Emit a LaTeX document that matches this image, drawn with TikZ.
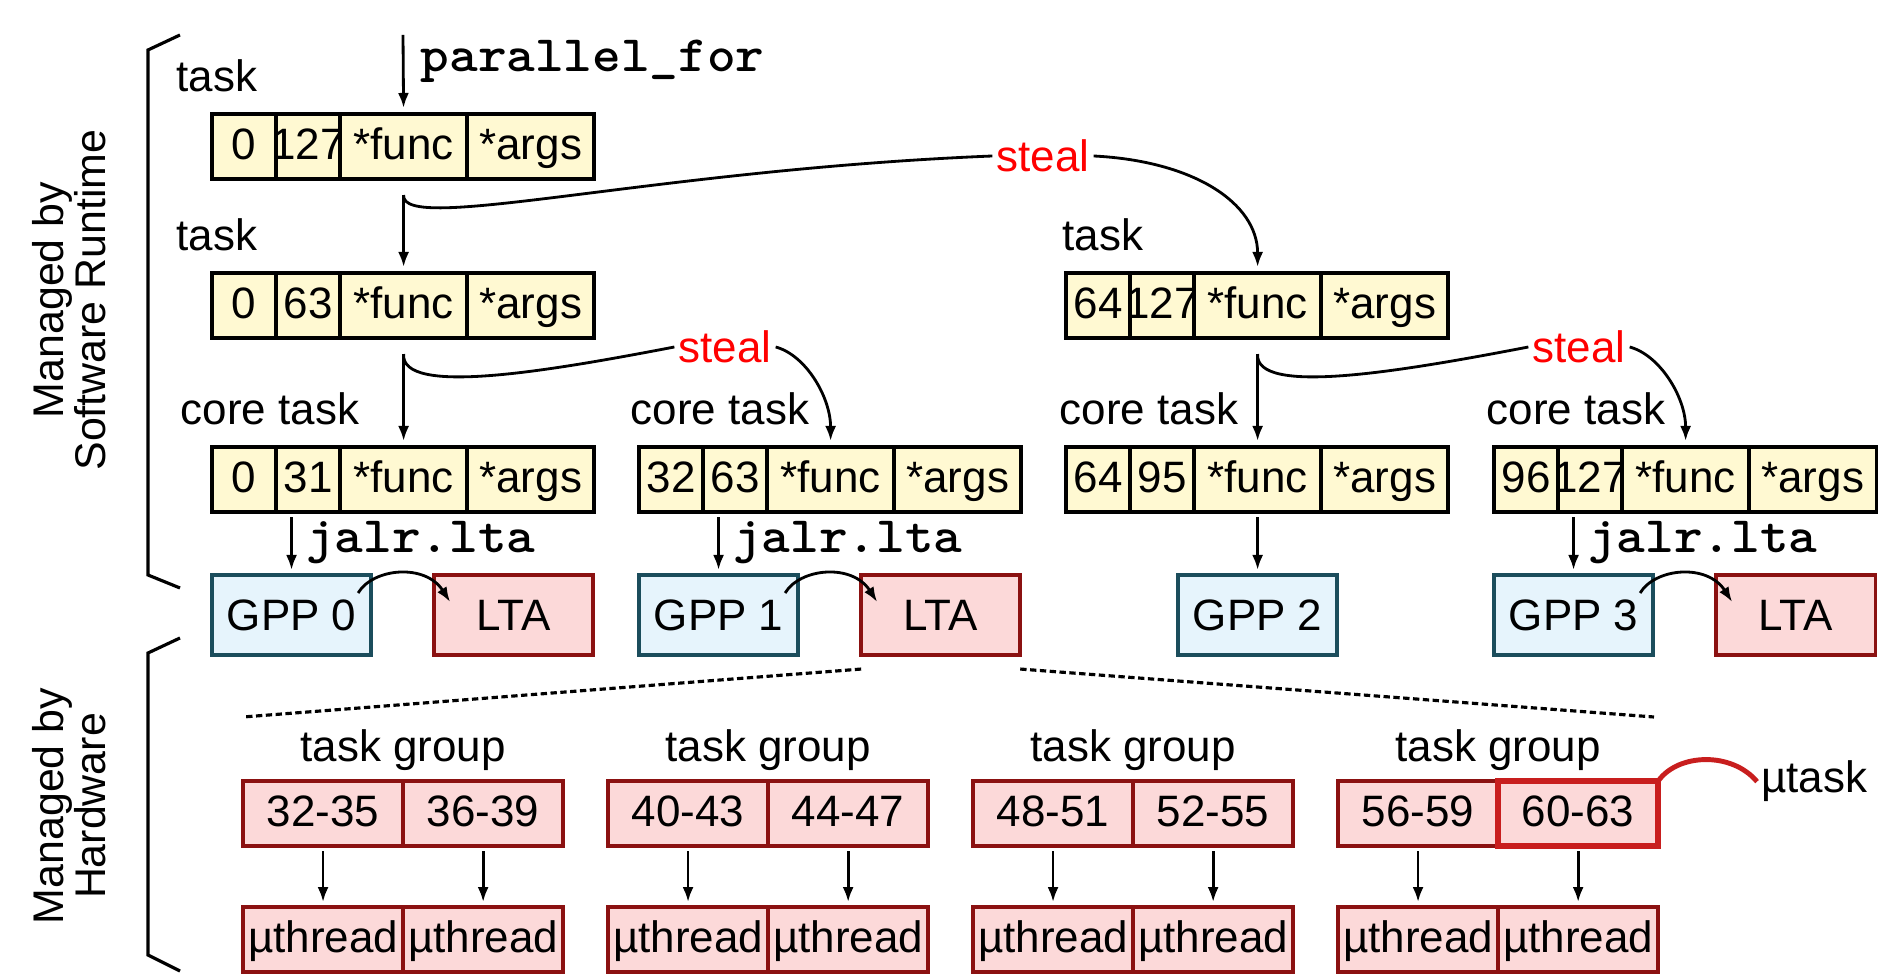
\documentclass[tikz,border=0pt]{standalone}
\usepackage{fontspec}
\setmainfont{Liberation Sans}
\usepackage{xcolor}
\usepackage{graphicx}
\usetikzlibrary{calc,positioning,arrows.meta}

\definecolor{taskfill}{HTML}{FFF9D2}
\definecolor{gppfill}{HTML}{E6F4FC}
\definecolor{gppline}{HTML}{1B4D5C}
\definecolor{ltafill}{HTML}{FCD9D9}
\definecolor{ltaline}{HTML}{8B1111}
\definecolor{hlred}{HTML}{C81E1E}
\definecolor{stealred}{HTML}{FF0000}

% task descriptor: lo | hi | *func | *args
\newcommand{\taskrow}[4]{%
  \node[tcell, minimum width=0.64cm, anchor=north west] (#1-lo) at (#2) {\makebox[0pt]{#3}};
  \node[tcell, minimum width=0.64cm, right=0pt of #1-lo] (#1-hi) {\makebox[0pt]{#4}};
  \node[tcell, minimum width=1.27cm, right=0pt of #1-hi] (#1-fn) {*func};
  \node[tcell, minimum width=1.27cm, right=0pt of #1-fn] (#1-ar) {*args};
}
% wide bold typewriter text
\newcommand{\code}[1]{\scalebox{1.07}[1]{\ttfamily\bfseries #1}}

\begin{document}
\begin{tikzpicture}[x=0.01cm, y=-0.01cm, font=\fontsize{12.5}{15}\selectfont]
\tikzstyle{tcell}=[draw, fill=taskfill, line width=1pt, outer sep=0pt, inner sep=0pt, minimum height=0.65cm, text height=0.72em, text depth=0pt]
\tikzstyle{gcell}=[tcell, draw=ltaline, fill=ltafill, minimum width=1.6cm]
\tikzstyle{gpp}=[draw=gppline, fill=gppfill, line width=1pt, outer sep=0pt, minimum width=1.59cm, minimum height=0.8cm]
\tikzstyle{lta}=[gpp, draw=ltaline, fill=ltafill]
\tikzstyle{arr}=[-{Latex[length=0.15cm, width=0.11cm]}, line width=0.8pt]
\tikzstyle{steal}=[text=stealred, inner sep=1pt]
\tikzstyle{code}=[font=\fontsize{14.5}{16}\selectfont, inner sep=0pt]
\tikzstyle{lbl}=[inner sep=0pt]
\tikzstyle{zoomline}=[line width=0.9pt, dash pattern=on 1.8pt off 1pt]
\useasboundingbox (0,0) rectangle (1886,977);

% brackets and side labels
\draw[line width=0.9pt] (180,35) -- (148,50) -- (148,575) -- (180,588);
\draw[line width=0.9pt] (180,638) -- (148,653) -- (148,955) -- (180,971);
\node[rotate=90, align=center, font=\fontsize{12.2}{12}\selectfont] (sw) at (69,300) {Managed by\\Software Runtime};
\node[rotate=90, align=center, font=\fontsize{12.2}{12}\selectfont] (hw) at (69,806) {Managed by\\Hardware};

% task descriptors
\taskrow{A}{212,114}{0}{127}
\taskrow{B}{212,273}{0}{63}
\taskrow{C}{1066,273}{64}{127}
\taskrow{D0}{212,447}{0}{31}
\taskrow{D1}{639,447}{32}{63}
\taskrow{D2}{1066,447}{64}{95}
\taskrow{D3}{1494,447}{96}{127}

\node[lbl, anchor=base west] (tA) at (176,92) {task};
\node[lbl, anchor=base west] (tB) at (176,251) {task};
\node[lbl, anchor=base west] (tC) at (1062,251) {task};
\node[lbl, anchor=base west] (cD0) at (180,425) {core task};
\node[lbl, anchor=base west] (cD1) at (630,425) {core task};
\node[lbl, anchor=base west] (cD2) at (1059,425) {core task};
\node[lbl, anchor=base west] (cD3) at (1486,425) {core task};

% spawn
\coordinate (pf) at (403,35);
\draw[arr, shorten >=0.06cm] (pf) -- (A-fn.north);
\node[code, anchor=base west] (pfor) at (420,72) {\code{parallel\_for}};

% splitting and stealing
\draw[arr, shorten <=0.16cm, shorten >=0.06cm] (A-fn.south) -- (B-fn.north);
\node[steal] (st1) at (1043,156) {steal};
\draw[line width=0.8pt] ($(A-fn.south)+(0,16)$) .. controls +(-3,40) and +(-343,14) .. (st1.west);
\draw[arr, shorten >=0.06cm] (st1.east) .. controls +(100,5) and +(0,-70) .. (C-fn.north);

\draw[arr, shorten <=0.16cm, shorten >=0.06cm] (B-fn.south) -- (D0-fn.north);
\node[steal] (st2) at (725,347) {steal};
\draw[line width=0.8pt] ($(B-fn.south)+(0,16)$) .. controls +(-3,42) and +(-130,25) .. (st2.west);
\draw[arr, shorten >=0.06cm] (st2.east) .. controls +(30,8) and +(0,-50) .. (D1-fn.north);

\draw[arr, shorten <=0.16cm, shorten >=0.06cm] (C-fn.south) -- (D2-fn.north);
\node[steal] (st3) at (1579,347) {steal};
\draw[line width=0.8pt] ($(C-fn.south)+(0,16)$) .. controls +(-3,42) and +(-130,25) .. (st3.west);
\draw[arr, shorten >=0.06cm] (st3.east) .. controls +(30,8) and +(0,-50) .. (D3-fn.north);

% cores
\node[gpp, anchor=north west] (gpp0) at (212,575) {GPP 0};
\node[lta, right=0.63cm of gpp0] (lta0) {LTA};
\node[gpp, anchor=north west] (gpp1) at (639,575) {GPP 1};
\node[lta, right=0.63cm of gpp1] (lta1) {LTA};
\node[gpp, anchor=north] (gpp2) at (D2-fn.south |- gpp0.north) {GPP 2};
\node[gpp, anchor=north west] (gpp3) at (1494,575) {GPP 3};
\node[lta, right=0.63cm of gpp3] (lta3) {LTA};

\draw[arr, shorten <=0.05cm, shorten >=0.05cm] (D2-fn.south) -- (gpp2.north);
\foreach \i in {0,1,3} {
  \draw[arr, shorten <=0.05cm, shorten >=0.05cm] (gpp\i.north |- D\i-lo.south) -- (gpp\i.north);
  \node[code, anchor=base west] (j\i) at ($(gpp\i.north)+(14,-22)$) {\code{jalr.lta}};
  \draw[arr] ($(gpp\i.north east)+(-13,18)$) .. controls +(15,-25) and +(-25,-39) .. ($(lta\i.north west)+(16,27)$);
}

% inside the LTA
\coordinate (zl) at (243,717);
\coordinate (zr) at (1654,717);
\draw[zoomline] ($(lta1.south west)+(0,14)$) -- (zl);
\draw[zoomline] ($(lta1.south east)+(0,14)$) -- (zr);

\foreach \g/\x/\a/\b in {1/243/32-35/36-39, 2/608/40-43/44-47, 3/973/48-51/52-55, 4/1338/56-59/60-63} {
  \node[gcell, anchor=north west] (g\g-a) at (\x,781) {\a};
  \node[gcell, right=0pt of g\g-a] (g\g-b) {\b};
  \node[anchor=base] (tg\g) at ($(g\g-a.north east)+(0,-19)$) {task group};
  \node[gcell, below=0.61cm of g\g-a] (u\g-a) {µthread};
  \node[gcell, below=0.61cm of g\g-b] (u\g-b) {µthread};
  \draw[arr, shorten <=0.05cm, shorten >=0.05cm] (g\g-a.south) -- (u\g-a.north);
  \draw[arr, shorten <=0.05cm, shorten >=0.05cm] (g\g-b.south) -- (u\g-b.north);
}

% one µtask picked out
\draw[hlred, line width=1.6pt] (g4-b.north west) rectangle (g4-b.south east);
\node[anchor=base west, inner sep=1pt] (mut) at (1757,793) {µtask};
\draw[hlred, line width=1.4pt] (g4-b.north east) .. controls +(20,-28) and +(-25,-30) .. (mut.west);
\end{tikzpicture}
\end{document}
